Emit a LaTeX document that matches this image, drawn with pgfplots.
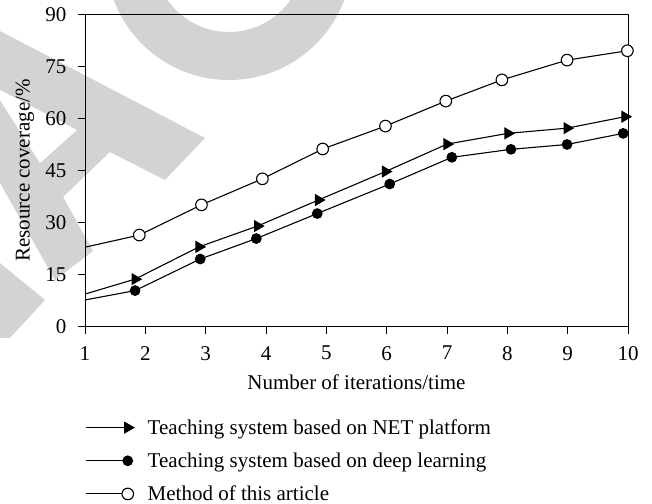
\documentclass[border=0pt]{standalone}
\usepackage{pgfplots}
\pgfplotsset{compat=1.18}
\usepackage{fontspec}
\setmainfont{Liberation Serif}
\definecolor{wm}{RGB}{211,211,211}
\begin{document}
\begin{tikzpicture}[font=\fontsize{21bp}{25bp}\selectfont]
\useasboundingbox (0,0) rectangle (652bp,504bp);
% background watermark (light grey)
\begin{scope}[shift={(0,504bp)}, x=1bp, y=-1bp]
  \fill[wm] (0,31) -- (205,138) -- (165,180) -- (110,152) -- (63,197) -- (93,251) -- (55,280) -- (0,183) -- cycle;
  \fill[white] (0,90) -- (77,130) -- (40,163) -- (0,100) -- cycle;
  \fill[wm] (0,263) -- (45,300) -- (10,338) -- (0,338) -- cycle;
  \fill[wm, even odd rule] (229,-43) circle[radius=123] (229,-43) circle[radius=75];
\end{scope}
\begin{axis}[
  at={(85bp,177.3bp)}, anchor=south west,
  scale only axis, width=543bp, height=312.4bp,
  xmin=1, xmax=10, ymin=0, ymax=90,
  xtick={1,2,3,4,5,6,7,8,9,10}, ytick={0,15,30,45,60,75,90},
  tick align=outside, tick pos=left,
  major tick length=7bp,
  axis line style={line width=0.9bp},
  tick style={line width=0.9bp, black},
  /pgf/number format/assume math mode=true,
  tick label style={font=\fontsize{21bp}{25bp}\selectfont},
  xticklabel style={yshift=-9bp},
  yticklabel style={xshift=-8bp},
  label style={font=\fontsize{21bp}{25bp}\selectfont},
  xlabel={Number of iterations/time},
  ylabel={Resource coverage/\%},
  xlabel style={at={(axis description cs:0.5,-0.179)}, anchor=center},
  ylabel style={at={(axis description cs:-0.1105,0.5)}, anchor=center},
  legend style={draw=none, fill=none, at={(axis description cs:0,-0.29)}, anchor=north west,
    font=\fontsize{21bp}{25bp}\selectfont, row sep=13bp, column sep=12bp, inner sep=0pt},
  legend cell align=left,
  legend image code/.code={\draw[#1, mark indices={2}] plot coordinates {(0bp,0bp) (42bp,0bp)};},
]
\addplot[black, line width=1.1bp, mark=triangle*, mark size=6bp,
  mark options={rotate=-90, fill=black, solid},
  mark indices={2,3,4,5,6,7,8,9,10}] coordinates {
  (1,9.4) (1.83,13.7) (2.89,23.0) (3.86,29.0) (4.87,36.5) (5.98,44.7) (7.0,52.6) (8.01,55.7) (8.99,57.2) (9.95,60.5)
};
\addlegendentry{Teaching system based on NET platform}
\addplot[black, line width=1.1bp, mark=*, mark size=4.8bp,
  mark options={fill=black, solid},
  mark indices={2,3,4,5,6,7,8,9,10}] coordinates {
  (1,7.7) (1.83,10.4) (2.91,19.5) (3.84,25.4) (4.85,32.6) (6.05,41.1) (7.08,48.8) (8.06,51.1) (8.99,52.5) (9.92,55.7)
};
\addlegendentry{Teaching system based on deep learning}
\addplot[black, line width=1.1bp, mark=*, mark size=5.8bp,
  mark options={fill=white, solid},
  mark indices={2,3,4,5,6,7,8,9,10}] coordinates {
  (1,22.9) (1.90,26.4) (2.93,35.1) (3.94,42.6) (4.94,51.2) (5.98,57.8) (6.98,65.0) (7.91,71.1) (8.99,76.8) (9.99,79.5)
};
\addlegendentry{Method of this article}
\end{axis}
\end{tikzpicture}
\end{document}
